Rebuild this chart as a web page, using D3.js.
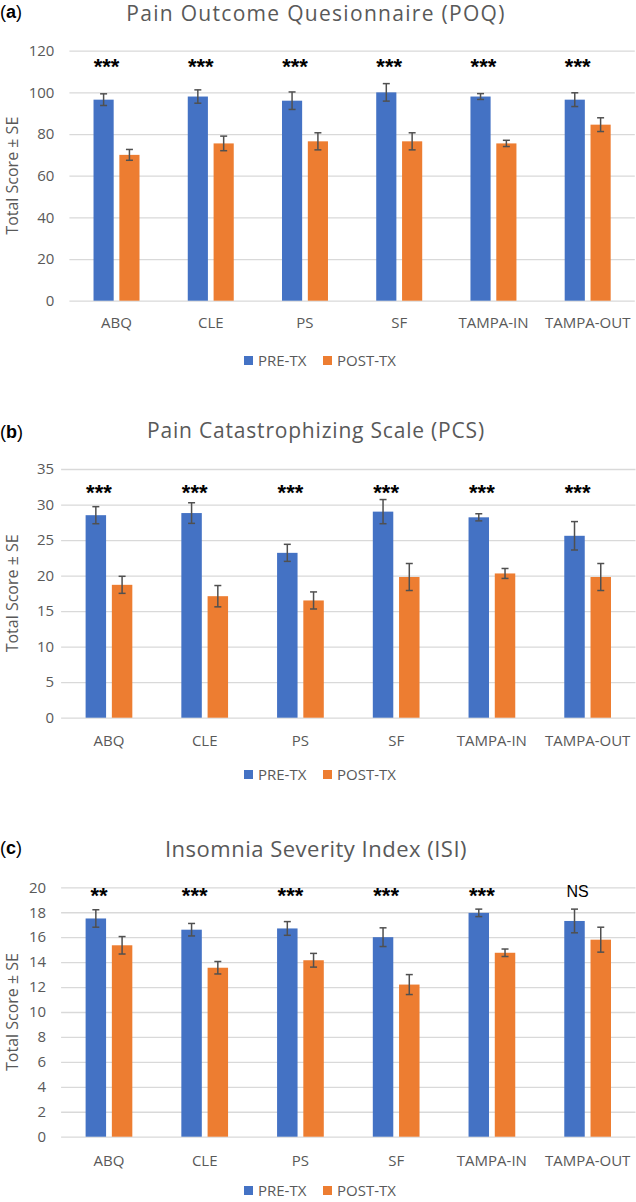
<!DOCTYPE html>
<html>
<head>
<meta charset="utf-8">
<script src="https://cdn.jsdelivr.net/npm/d3@7"></script>
<style>
  html, body { margin: 0; padding: 0; background: #fff; }
  svg { display: block; }
</style>
</head>
<body>
<svg id="chart" width="636" height="1202"></svg>
<script>
// ---------- DATA ----------
const categories = ["ABQ", "CLE", "PS", "SF", "TAMPA-IN", "TAMPA-OUT"];
const seriesNames = ["PRE-TX", "POST-TX"];

const poqTitle = "Pain Outcome Quesionnaire (POQ)";
const poqPre = [96.5, 98, 96, 100, 98, 96.5];
const poqPreSE = [2.8, 3.2, 4.2, 4.2, 1.4, 3.3];
const poqPost = [70, 75.5, 76.5, 76.5, 75.5, 84.5];
const poqPostSE = [2.6, 3.5, 4.1, 4.1, 1.5, 3.3];
const poqSig = ["***", "***", "***", "***", "***", "***"];
const poqTicks = [0, 20, 40, 60, 80, 100, 120];

const pcsTitle = "Pain Catastrophizing Scale (PCS)";
const pcsPre = [28.5, 28.8, 23.2, 29.0, 28.2, 25.6];
const pcsPreSE = [1.2, 1.45, 1.2, 1.7, 0.5, 2.0];
const pcsPost = [18.7, 17.1, 16.5, 19.8, 20.3, 19.8];
const pcsPostSE = [1.2, 1.5, 1.2, 1.9, 0.7, 1.9];
const pcsSig = ["***", "***", "***", "***", "***", "***"];
const pcsTicks = [0, 5, 10, 15, 20, 25, 30, 35];

const isiTitle = "Insomnia Severity Index (ISI)";
const isiPre = [17.5, 16.6, 16.7, 16.0, 17.95, 17.3];
const isiPreSE = [0.7, 0.5, 0.55, 0.75, 0.3, 0.95];
const isiPost = [15.35, 13.55, 14.15, 12.2, 14.75, 15.8];
const isiPostSE = [0.7, 0.5, 0.55, 0.8, 0.3, 1.0];
const isiSig = ["**", "***", "***", "***", "***", "NS"];
const isiTicks = [0, 2, 4, 6, 8, 10, 12, 14, 16, 18, 20];

const yAxisTitle = "Total Score \u00b1 SE";
const colors = ["#4472C4", "#ED7D31"];

// ---------- DRAW ----------
const svg = d3.select("#chart");
const FONT = "'Open Sans', 'Noto Sans', sans-serif";
const GRAY = "#595959";

function drawPanel(letter, title, pre, preSE, post, postSE, sig, ticks, L) {
  const g = svg.append("g");
  const x = d3.scaleBand().domain(categories).range([L.left, L.right])
    .paddingInner(0.512).paddingOuter(0.256);
  const xs = d3.scaleBand().domain(seriesNames).range([0, x.bandwidth()]).paddingInner(0.22);
  const y = d3.scaleLinear().domain([ticks[0], ticks[ticks.length - 1]]).range([L.bottom, L.top]);

  // letter
  const lt = g.append("text").attr("x", 0).attr("y", L.letterY)
    .attr("font-family", "'Liberation Sans', Arial, sans-serif").attr("font-size", 18).attr("fill", "#000");
  lt.append("tspan").text("(");
  lt.append("tspan").attr("font-weight", "bold").text(letter);
  lt.append("tspan").text(")");

  // title
  g.append("text").attr("x", 316).attr("y", L.titleY).attr("text-anchor", "middle")
    .attr("font-family", FONT).attr("font-size", L.titleSize).attr("letter-spacing", L.titleLS)
    .attr("fill", GRAY).text(title);

  // gridlines + tick labels
  const axis = d3.axisLeft(y).tickValues(ticks).tickSize(-(L.right - L.left)).tickPadding(L.tickPad);
  const ag = g.append("g").attr("transform", `translate(${L.left},0)`).call(axis);
  ag.select(".domain").remove();
  ag.selectAll(".tick line").attr("stroke", "#D9D9D9").attr("stroke-width", 1.3);
  ag.selectAll(".tick text").attr("font-family", FONT).attr("font-size", L.tickSize).attr("fill", GRAY);

  // y title
  const yc = (L.top + L.bottom) / 2;
  g.append("text").attr("transform", `translate(${L.yTitleX},${yc}) rotate(-90)`)
    .attr("text-anchor", "middle").attr("font-family", FONT).attr("font-size", 16)
    .attr("fill", GRAY).text(yAxisTitle);

  // bars
  const sets = [[pre, preSE], [post, postSE]];
  sets.forEach((s, si) => {
    const vals = s[0], ses = s[1];
    const bx = i => x(categories[i]) + xs(seriesNames[si]);
    g.selectAll(null).data(vals).enter().append("rect")
      .attr("x", (d, i) => bx(i)).attr("width", xs.bandwidth())
      .attr("y", d => y(d)).attr("height", d => y(0) - y(d))
      .attr("fill", colors[si]);
    // error bars
    const eg = g.selectAll(null).data(vals).enter().append("g").attr("stroke", "#505050").attr("stroke-width", 1.5);
    eg.append("line").attr("x1", (d, i) => bx(i) + xs.bandwidth() / 2).attr("x2", (d, i) => bx(i) + xs.bandwidth() / 2)
      .attr("y1", (d, i) => y(d + ses[i])).attr("y2", (d, i) => y(d - ses[i]));
    [1, -1].forEach(sgn => {
      eg.append("line").attr("x1", (d, i) => bx(i) + xs.bandwidth() / 2 - 3.5).attr("x2", (d, i) => bx(i) + xs.bandwidth() / 2 + 3.5)
        .attr("y1", (d, i) => y(d + sgn * ses[i])).attr("y2", (d, i) => y(d + sgn * ses[i]));
    });
  });

  // significance
  g.selectAll(null).data(sig).enter().append("text")
    .attr("x", (d, i) => x(categories[i]) + x.bandwidth() / 2 - 10)
    .attr("y", d => d === "NS" ? L.sigY - 6 : L.sigY)
    .attr("text-anchor", "middle")
    .attr("font-family", "'Liberation Sans', Arial, sans-serif")
    .attr("font-weight", d => d === "NS" ? "normal" : "bold")
    .attr("font-size", d => d === "NS" ? 16 : 22)
    .attr("fill", "#000").text(d => d);

  // x labels
  g.selectAll(null).data(categories).enter().append("text")
    .attr("x", d => x(d) + x.bandwidth() / 2).attr("y", L.xLabelY)
    .attr("text-anchor", "middle").attr("font-family", FONT).attr("font-size", 15)
    .attr("fill", GRAY).text(d => d);

  // legend
  const lx = [244, 323];
  seriesNames.forEach((n, i) => {
    g.append("rect").attr("x", lx[i]).attr("y", L.legendY - 10).attr("width", 9).attr("height", 9).attr("fill", colors[i]);
    g.append("text").attr("x", lx[i] + 14).attr("y", L.legendY).attr("font-family", FONT)
      .attr("font-size", 15).attr("fill", GRAY).text(n);
  });
}

drawPanel("a", poqTitle, poqPre, poqPreSE, poqPost, poqPostSE, poqSig, poqTicks,
  { left: 69.4, right: 634.8, top: 50.7, bottom: 300.7, letterY: 18, titleY: 21, titleSize: 21, titleLS: 1.3,
    tickSize: 15, tickPad: 15, yTitleX: 18, sigY: 74, xLabelY: 328, legendY: 366 });
drawPanel("b", pcsTitle, pcsPre, pcsPreSE, pcsPost, pcsPostSE, pcsSig, pcsTicks,
  { left: 61.1, right: 635.5, top: 469, bottom: 717.7, letterY: 438, titleY: 438, titleSize: 21, titleLS: 0.8,
    tickSize: 15, tickPad: 7, yTitleX: 18, sigY: 500, xLabelY: 746, legendY: 780 });
drawPanel("c", isiTitle, isiPre, isiPreSE, isiPost, isiPostSE, isiSig, isiTicks,
  { left: 61.1, right: 635.5, top: 887.3, bottom: 1136.7, letterY: 854, titleY: 857, titleSize: 22, titleLS: 0.5,
    tickSize: 15, tickPad: 15, yTitleX: 18, sigY: 903, xLabelY: 1166, legendY: 1196 });
</script>
</body>
</html>
